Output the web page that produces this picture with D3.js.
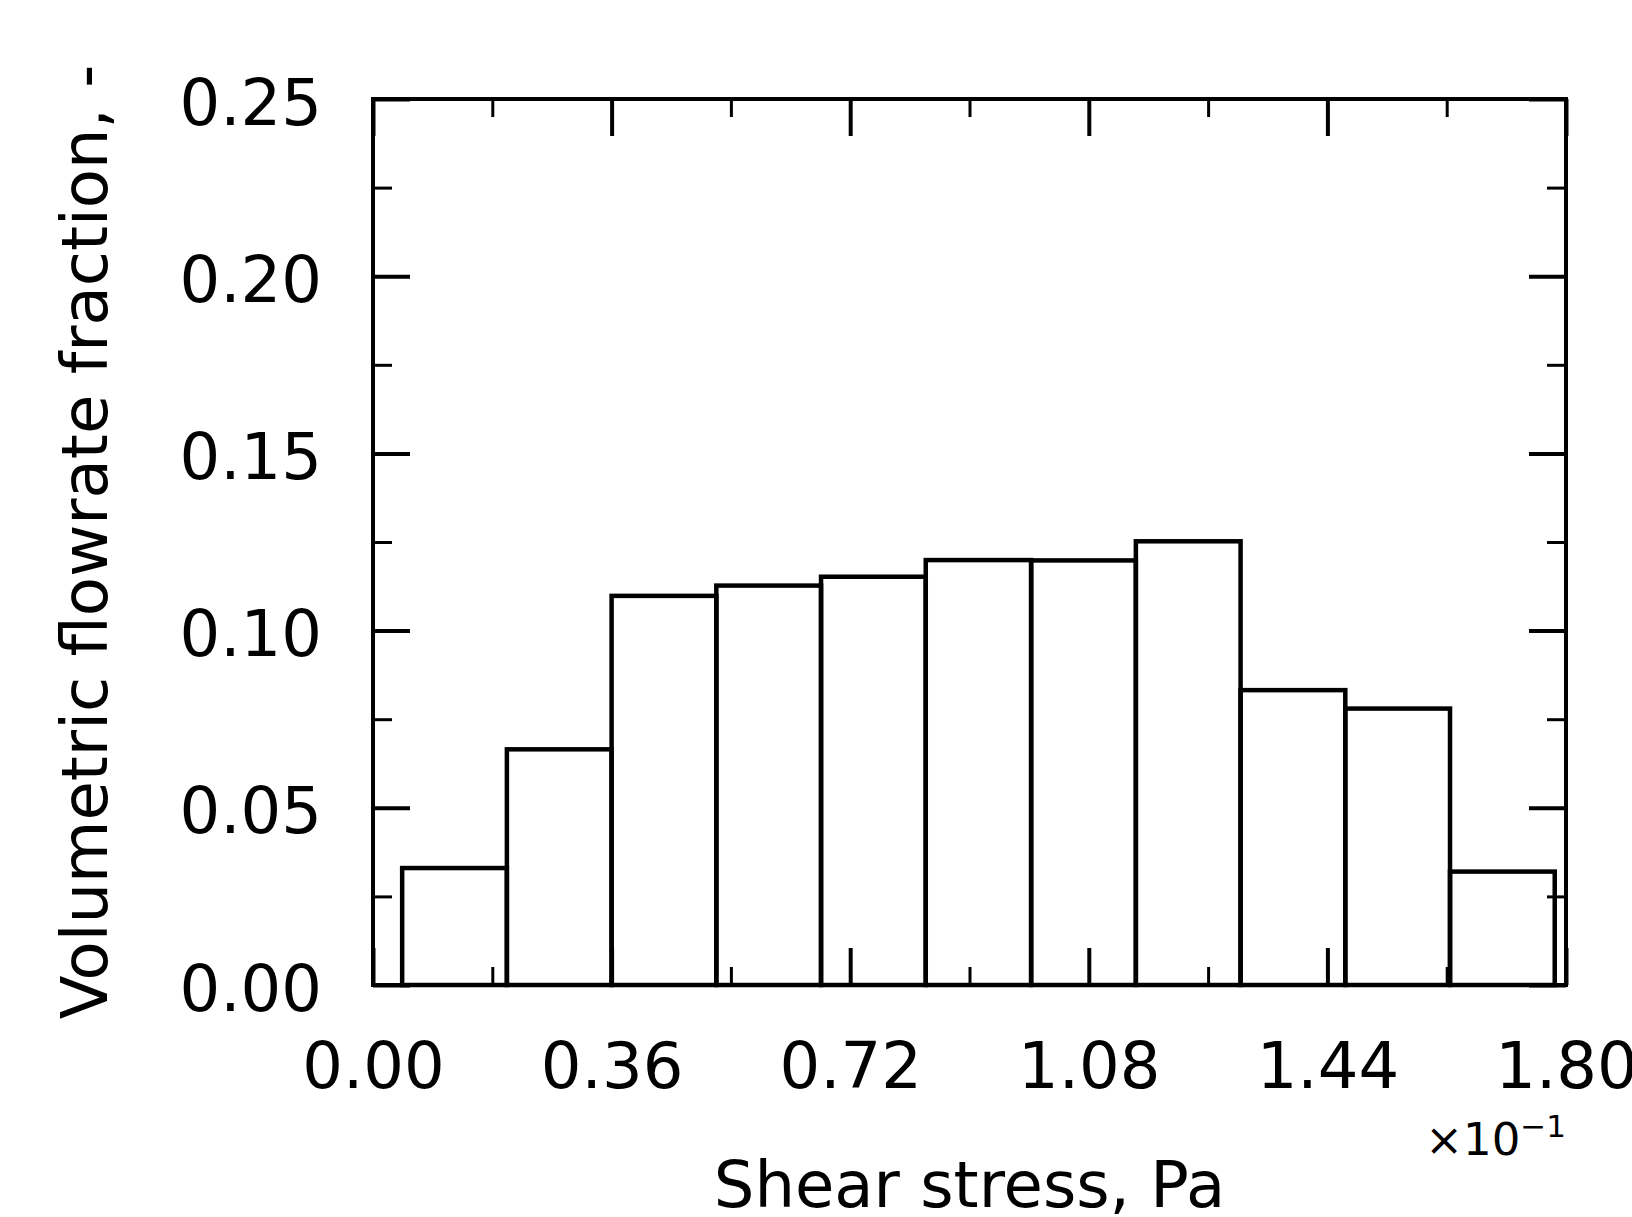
<!DOCTYPE html>
<html>
<head>
<meta charset="utf-8">
<script src="https://cdn.jsdelivr.net/npm/d3@7"></script>
<style>
body { margin: 0; background: #fff; }
text { font-family: "DejaVu Sans", sans-serif; fill: #000; }
</style>
</head>
<body>
<script>
// histogram bins (x in units of 1e-1 Pa)
var binEdges = [0.044, 0.202, 0.360, 0.518, 0.676, 0.834, 0.993, 1.151, 1.309, 1.467, 1.625, 1.783];
var fractions = [0.0330, 0.0665, 0.1098, 0.1127, 0.1152, 0.1199, 0.1198, 0.1252, 0.0832, 0.0780, 0.0320];
var xTicks = [0.00, 0.36, 0.72, 1.08, 1.44, 1.80];
var xMinor = [0.18, 0.54, 0.90, 1.26, 1.62];
var yTicks = [0.00, 0.05, 0.10, 0.15, 0.20, 0.25];
var yMinor = [0.025, 0.075, 0.125, 0.175, 0.225];

var w = 1632, h = 1217;
var m = {left: 373, right: 66, top: 99, bottom: 232};
var pw = w - m.left - m.right, ph = h - m.top - m.bottom;

var svg = d3.select("body").append("svg")
	.attr("width", w)
	.attr("height", h)
	.style("background-color", "#fff");

var x = d3.scaleLinear().domain([0, 1.8]).range([0, pw]);
var y = d3.scaleLinear().domain([0, 0.25]).range([ph, 0]);

var g = svg.append("g").attr("transform", "translate(" + m.left + "," + m.top + ")");

var bins = fractions.map(function(v, i) { return {x0: binEdges[i], x1: binEdges[i + 1], v: v}; });

g.selectAll("rect.bar")
	.data(bins)
	.enter()
	.append("rect")
	.attr("class", "bar")
	.attr("x", function(d) { return x(d.x0); })
	.attr("width", function(d) { return x(d.x1) - x(d.x0); })
	.attr("y", function(d) { return y(d.v); })
	.attr("height", function(d) { return ph - y(d.v); })
	.attr("fill", "none")
	.attr("stroke", "#000")
	.attr("stroke-width", 4.5);

var fmt = d3.format(".2f");

function ticks(axis, vals, size, width, labels)
{
	var a = axis.tickValues(vals).tickSizeOuter(0).tickSize(-size)
		.tickFormat(labels ? fmt : "");
	return function(sel) {
		sel.call(a);
		sel.select(".domain").remove();
		sel.selectAll(".tick line").attr("stroke", "#000").attr("stroke-width", width);
		sel.selectAll("text").style("font-family", "DejaVu Sans").style("font-size", "64px").attr("fill", "#000");
	};
}

// bottom
var gb = g.append("g").attr("transform", "translate(0," + ph + ")");
gb.call(ticks(d3.axisBottom(x), xTicks, 37, 4, true));
gb.selectAll("text").attr("y", 103).attr("dy", null);
g.append("g").attr("transform", "translate(0," + ph + ")").call(ticks(d3.axisBottom(x), xMinor, 18, 3, false));
// top
g.append("g").call(ticks(d3.axisTop(x), xTicks, 37, 4, false));
g.append("g").call(ticks(d3.axisTop(x), xMinor, 18, 3, false));
// left
var gl = g.append("g");
gl.call(ticks(d3.axisLeft(y), yTicks, 37, 4, true));
gl.selectAll("text").attr("x", -51).attr("dy", null).attr("y", 25);
g.append("g").call(ticks(d3.axisLeft(y), yMinor, 19, 3, false));
// right
g.append("g").attr("transform", "translate(" + pw + ",0)").call(ticks(d3.axisRight(y), yTicks, 37, 4, false));
g.append("g").attr("transform", "translate(" + pw + ",0)").call(ticks(d3.axisRight(y), yMinor, 19, 3, false));

// frame
g.append("rect")
	.attr("x", 0).attr("y", 0)
	.attr("width", pw).attr("height", ph)
	.attr("fill", "none")
	.attr("stroke", "#000")
	.attr("stroke-width", 4);

// axis labels
svg.append("text")
	.attr("x", m.left + pw / 2)
	.attr("y", 1207)
	.attr("text-anchor", "middle")
	.style("font-size", "64px")
	.text("Shear stress, Pa");

svg.append("text")
	.attr("transform", "translate(107," + (m.top + ph / 2) + ") rotate(-90)")
	.attr("text-anchor", "middle")
	.style("font-size", "64px")
	.text("Volumetric flowrate fraction, -");

// offset text
var off = svg.append("text")
	.attr("x", m.left + pw)
	.attr("y", 1155)
	.attr("text-anchor", "end")
	.style("font-size", "45px");
off.append("tspan").text("\u00d710");
off.append("tspan").attr("dy", -18).style("font-size", "31px").text("\u22121");
</script>
</body>
</html>
